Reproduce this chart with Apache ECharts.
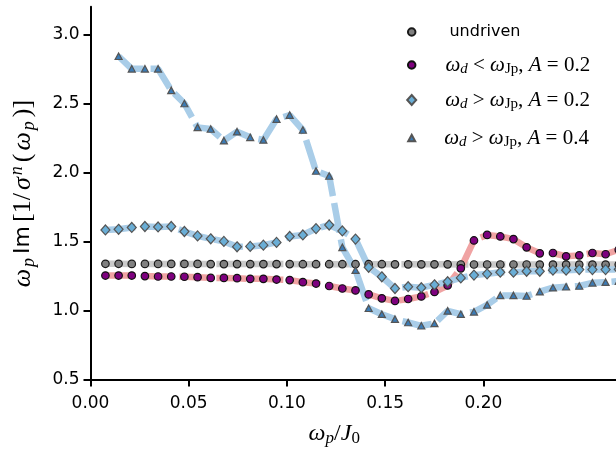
<!DOCTYPE html>
<html>
<head>
<meta charset="utf-8">
<title>driven response</title>
<script src="https://cdn.jsdelivr.net/npm/echarts@6/dist/echarts.min.js"></script>
<style>
  html, body { margin: 0; padding: 0; background: #fff; }
  #main { width: 616px; height: 452px; }
</style>
</head>
<body>
<div id="main"></div>
<script>
// omega_p / J_0 sample positions (last one sits just past the right edge)
var xs = [0.0076, 0.0143, 0.0210, 0.0277, 0.0344, 0.0411, 0.0478, 0.0545, 0.0612, 0.0679,
          0.0746, 0.0813, 0.0880, 0.0947, 0.1014, 0.1081, 0.1148, 0.1215, 0.1282, 0.1349,
          0.1416, 0.1483, 0.1550, 0.1617, 0.1684, 0.1751, 0.1818, 0.1885, 0.1952, 0.2019,
          0.2086, 0.2153, 0.2220, 0.2287, 0.2354, 0.2421, 0.2488, 0.2555, 0.2622, 0.2689];

var undriven = [1.338, 1.338, 1.337, 1.337, 1.337, 1.337, 1.337, 1.337, 1.336, 1.336,
                1.336, 1.336, 1.336, 1.336, 1.336, 1.335, 1.335, 1.335, 1.335, 1.335,
                1.335, 1.335, 1.334, 1.334, 1.334, 1.334, 1.334, 1.333, 1.333, 1.333,
                1.333, 1.333, 1.333, 1.332, 1.332, 1.332, 1.332, 1.332, 1.332, 1.332];

// omega_d < omega_Jp, A = 0.2
var lowA02 = [1.253, 1.253, 1.253, 1.249, 1.246, 1.246, 1.244, 1.241, 1.236, 1.236,
              1.234, 1.229, 1.229, 1.224, 1.220, 1.205, 1.195, 1.177, 1.159, 1.145,
              1.116, 1.088, 1.069, 1.083, 1.102, 1.134, 1.181, 1.305, 1.507, 1.547,
              1.536, 1.517, 1.457, 1.414, 1.416, 1.392, 1.399, 1.416, 1.407, 1.440];

// omega_d > omega_Jp, A = 0.2
var highA02 = [1.583, 1.588, 1.601, 1.608, 1.605, 1.608, 1.572, 1.540, 1.519, 1.500,
               1.461, 1.464, 1.473, 1.493, 1.536, 1.547, 1.593, 1.619, 1.576, 1.517,
               1.313, 1.244, 1.159, 1.172, 1.165, 1.186, 1.208, 1.236, 1.256, 1.265,
               1.277, 1.277, 1.284, 1.284, 1.292, 1.292, 1.296, 1.296, 1.296, 1.298];

// omega_d > omega_Jp, A = 0.4 (no sample at the first position)
var highA04 = [null, 2.841, 2.750, 2.750, 2.750, 2.594, 2.499, 2.326, 2.314, 2.230,
               2.295, 2.254, 2.235, 2.386, 2.415, 2.307, 2.010, 1.974, 1.457, 1.292,
               1.016, 0.973, 0.937, 0.913, 0.889, 0.906, 0.997, 0.973, 0.990, 1.040,
               1.109, 1.109, 1.105, 1.136, 1.165, 1.172, 1.177, 1.200, 1.205, 1.213];

var yTicks = [0.5, 1.0, 1.5, 2.0, 2.5, 3.0];
var xTicks = [0, 0.05, 0.10, 0.15, 0.20];

function pairs(ys) {
  var out = [];
  for (var i = 0; i < xs.length; i++) {
    if (ys[i] != null) out.push([xs[i], ys[i]]);
  }
  return out;
}

var myChart = echarts.init(document.getElementById('main'));

var dash = [30, 7];
function bgLine(ys, color) {
  return {
    type: 'line', data: pairs(ys), symbol: 'none', silent: true, z: 1,
    lineStyle: { color: color, width: 6.5, type: dash, cap: 'butt' }
  };
}
function marks(name, ys, symbol, size, fill, edge) {
  return {
    name: name, type: 'scatter', data: pairs(ys), symbol: symbol, symbolSize: size,
    clip: false, z: 3,
    itemStyle: { color: fill, borderColor: edge, borderWidth: 1.2, opacity: 1 }
  };
}

var serif = 'Liberation Serif';
var rich = {
  s:  { fontFamily: 'DejaVu Sans', fontSize: 16, lineHeight: 24, color: '#000' },
  i:  { fontFamily: serif, fontStyle: 'italic', fontSize: 21, lineHeight: 24, color: '#000' },
  r:  { fontFamily: serif, fontSize: 21, lineHeight: 24, color: '#000' },
  si: { fontFamily: serif, fontStyle: 'italic', fontSize: 15, lineHeight: 24, padding: [9, 0, 0, 0], color: '#000' },
  sr: { fontFamily: serif, fontSize: 15, lineHeight: 24, padding: [9, 0, 0, 0], color: '#000' },
  g29: { width: 29 }, g25: { width: 25 }, g24: { width: 24 }
};
var labels = {
  'undriven': '{g29| }{s|undriven}',
  'lowA02':  '{g25| }{i|ω}{si|d}{r| < }{i|ω}{sr|Jp}{r|, }{i|A}{r| = 0.2}',
  'highA02': '{g24| }{i|ω}{si|d}{r| > }{i|ω}{sr|Jp}{r|, }{i|A}{r| = 0.2}',
  'highA04': '{g24| }{i|ω}{si|d}{r| > }{i|ω}{sr|Jp}{r|, }{i|A}{r| = 0.4}'
};
function legendRow(name, top, w, h) {
  return {
    data: [name], left: 410.7 - w / 2, top: top, padding: 0,
    itemWidth: w, itemHeight: h, selectedMode: false,
    formatter: function (n) { return labels[n]; },
    textStyle: { rich: rich }
  };
}

// axis titles: larger math text
var xRich = {
  i:  { fontFamily: serif, fontStyle: 'italic', fontSize: 24, lineHeight: 28, color: '#000' },
  r:  { fontFamily: serif, fontSize: 24, lineHeight: 28, color: '#000' },
  si: { fontFamily: serif, fontStyle: 'italic', fontSize: 17, lineHeight: 28, padding: [10, 0, 0, 0], color: '#000' },
  sr: { fontFamily: serif, fontSize: 17, lineHeight: 28, padding: [10, 0, 0, 0], color: '#000' }
};
var yRich = {
  i:  { fontFamily: serif, fontStyle: 'italic', fontSize: 26, lineHeight: 30, padding: [0, 1, 0, 1], color: '#000' },
  r:  { fontFamily: serif, fontSize: 26, lineHeight: 30, padding: [0, 2, 0, 2], color: '#000' },
  s:  { fontFamily: 'DejaVu Sans', fontSize: 22, lineHeight: 30, padding: [0, 2, 0, 2], color: '#000' },
  si: { fontFamily: serif, fontStyle: 'italic', fontSize: 18, lineHeight: 30, padding: [11, 2, 0, 1], color: '#000' },
  sup: { fontFamily: serif, fontStyle: 'italic', fontSize: 18, lineHeight: 30, padding: [0, 2, 13, 1], color: '#000' }
};

var option = {
  animation: false,
  backgroundColor: '#fff',
  grid: { left: 90, right: 0, top: 6.7, bottom: 69.5 },
  legend: [
    legendRow('undriven', 24, 7.5, 7.5),
    legendRow('lowA02', 53, 7.5, 7.5),
    legendRow('highA02', 88, 9, 10),
    legendRow('highA04', 126, 7, 6.5)
  ],
  xAxis: {
    type: 'value', min: 0, max: 0.2675,
    name: '{i|ω}{si|p}{r|/}{i|J}{sr|0}',
    nameLocation: 'middle', nameGap: 40,
    nameTextStyle: { rich: xRich, padding: [0, 38, 0, 0] },
    axisLine: { lineStyle: { color: '#000', width: 2 } },
    axisTick: { customValues: xTicks, length: 7, lineStyle: { color: '#000', width: 2 } },
    axisLabel: {
      customValues: xTicks, margin: 16, color: '#000', fontSize: 17, fontFamily: 'DejaVu Sans',
      formatter: function (v) { return v.toFixed(2); }
    },
    splitLine: { show: false }
  },
  yAxis: {
    type: 'value', min: 0.5, max: 3.2,
    name: '{i|ω}{si|p}{s|Im}{r|[1/}{i|σ}{sup|n}{r|(}{i|ω}{si|p}{r|)]}',
    nameLocation: 'middle', nameGap: 52,
    nameTextStyle: { rich: yRich },
    axisLine: { show: true, lineStyle: { color: '#000', width: 2 } },
    axisTick: { show: true, customValues: yTicks, length: 7, lineStyle: { color: '#000', width: 2 } },
    axisLabel: {
      customValues: yTicks, margin: 11, color: '#000', fontSize: 17, fontFamily: 'DejaVu Sans',
      formatter: function (v) { return v.toFixed(1); }
    },
    splitLine: { show: false }
  },
  series: [
    bgLine(undriven, '#cacaca'),
    bgLine(lowA02, '#f0a3a3'),
    bgLine(highA02, '#a9cde8'),
    bgLine(highA04, '#a9cde8'),
    marks('undriven', undriven, 'circle', 7.5, '#808080', '#1a1a1a'),
    marks('lowA02', lowA02, 'circle', 7.5, '#7e007e', '#111'),
    marks('highA02', highA02, 'diamond', [9, 10], '#6aaed6', '#555'),
    marks('highA04', highA04, 'triangle', [7, 6.5], '#3b7bb5', '#555')
  ]
};

myChart.setOption(option);
</script>
</body>
</html>
